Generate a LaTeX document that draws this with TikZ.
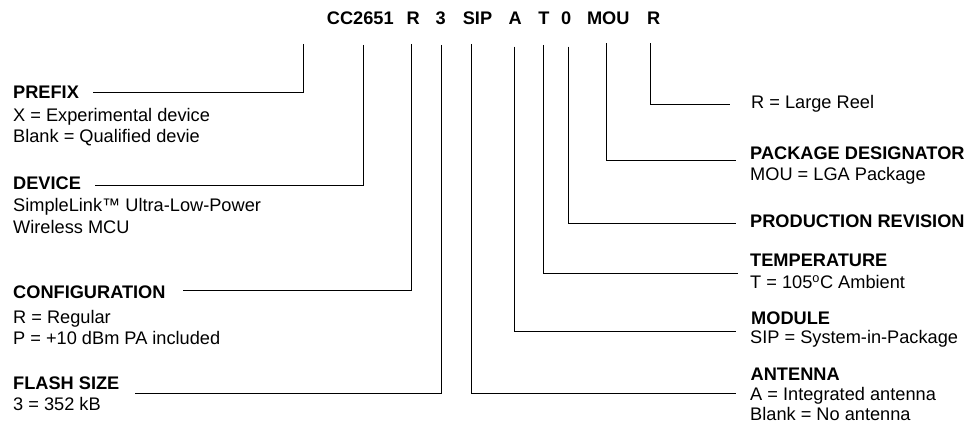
\documentclass[tikz,border=0pt]{standalone}
\usepackage{fontspec}
\setmainfont{Liberation Sans}
\begin{document}
\begin{tikzpicture}[x=1pt,y=-1pt,
  txt/.style={anchor=base west, inner sep=0pt, font=\fontsize{18.2}{21}\selectfont},
  hd/.style={anchor=base west, inner sep=0pt, font=\fontsize{18.2}{21}\selectfont\bfseries},
  pn/.style={anchor=base, inner sep=0pt, font=\fontsize{18.2}{21}\selectfont\bfseries},
  conn/.style={line width=0.9pt, black}]
\useasboundingbox (0,0) rectangle (971,427);
% part number
\node[pn] (pCC)  at (360.3,25) {CC2651};
\node[pn] (pR)   at (413.3,25) {R};
\node[pn] (p3)   at (440.8,25) {3};
\node[pn] (pSIP) at (477.5,25) {SIP};
\node[pn] (pA)   at (515.3,25) {A};
\node[pn] (pT)   at (544,25) {T};
\node[pn] (p0)   at (566.2,25) {0};
\node[pn] (pMOU) at (608.3,25) {MOU};
\node[pn] (pRl)  at (653.7,25) {R};
% left labels
\node[hd]  (hPre)  at (13,98.3) {PREFIX};
\node[txt] (lPre1) at (13,122) {X = Experimental device};
\node[txt] (lPre2) at (13,143) {Blank = Qualified devie};
\node[hd]  (hDev)  at (13,190) {DEVICE};
\node[txt] (lDev1) at (13,211.7) {SimpleLink™ Ultra-Low-Power};
\node[txt] (lDev2) at (13,233.3) {Wireless MCU};
\node[hd]  (hCfg)  at (13,298.3) {CONFIGURATION};
\node[txt] (lCfg1) at (13,323.3) {R = Regular};
\node[txt] (lCfg2) at (13,344) {P = +10 dBm PA included};
\node[hd]  (hFls)  at (13,389.3) {FLASH SIZE};
\node[txt] (lFls1) at (13,410) {3 = 352 kB};
% right labels
\node[txt] (lReel) at (751,108.3) {R = Large Reel};
\node[hd]  (hPkg)  at (750,160) {PACKAGE DESIGNATOR};
\node[txt] (lPkg1) at (750,180.7) {MOU = LGA Package};
\node[hd]  (hRev)  at (750,227.7) {PRODUCTION REVISION};
\node[hd]  (hTmp)  at (750,266.7) {TEMPERATURE};
\node[txt] (lTmp1) at (750,288.3) {T = 105\textsuperscript{o}C Ambient};
\node[hd]  (hMod)  at (751,324) {MODULE};
\node[txt] (lMod1) at (750,343.3) {SIP = System-in-Package};
\node[hd]  (hAnt)  at (750.5,380) {ANTENNA};
\node[txt] (lAnt1) at (750,400) {A = Integrated antenna};
\node[txt] (lAnt2) at (750,420) {Blank = No antenna};
% connector coordinates
\coordinate (tPre) at (303,44);    \coordinate (ePre) at (93,92);
\coordinate (tCC)  at (363,45);    \coordinate (eDev) at (95,185);
\coordinate (tR)   at (411.7,44);  \coordinate (eCfg) at (183,290.7);
\coordinate (t3)   at (441.7,45);  \coordinate (eFls) at (135,393);
\coordinate (tSIP) at (471,44);    \coordinate (eAnt) at (736,393);
\coordinate (tA)   at (514,46.7);  \coordinate (eMod) at (736,331.7);
\coordinate (tT)   at (543.3,45);  \coordinate (eTmp) at (738,273.3);
\coordinate (t0)   at (568.3,46.7);\coordinate (eRev) at (736,223.3);
\coordinate (tMOU) at (606.7,43.3);\coordinate (ePkg) at (736,160.7);
\coordinate (tRl)  at (650.7,43.3);\coordinate (eReel) at (730,104);
\draw[conn] (tPre) |- (ePre);
\draw[conn] (tCC)  |- (eDev);
\draw[conn] (tR)   |- (eCfg);
\draw[conn] (t3)   |- (eFls);
\draw[conn] (tSIP) |- (eAnt);
\draw[conn] (tA)   |- (eMod);
\draw[conn] (tT)   |- (eTmp);
\draw[conn] (t0)   |- (eRev);
\draw[conn] (tMOU) |- (ePkg);
\draw[conn] (tRl)  |- (eReel);
\end{tikzpicture}
\end{document}
